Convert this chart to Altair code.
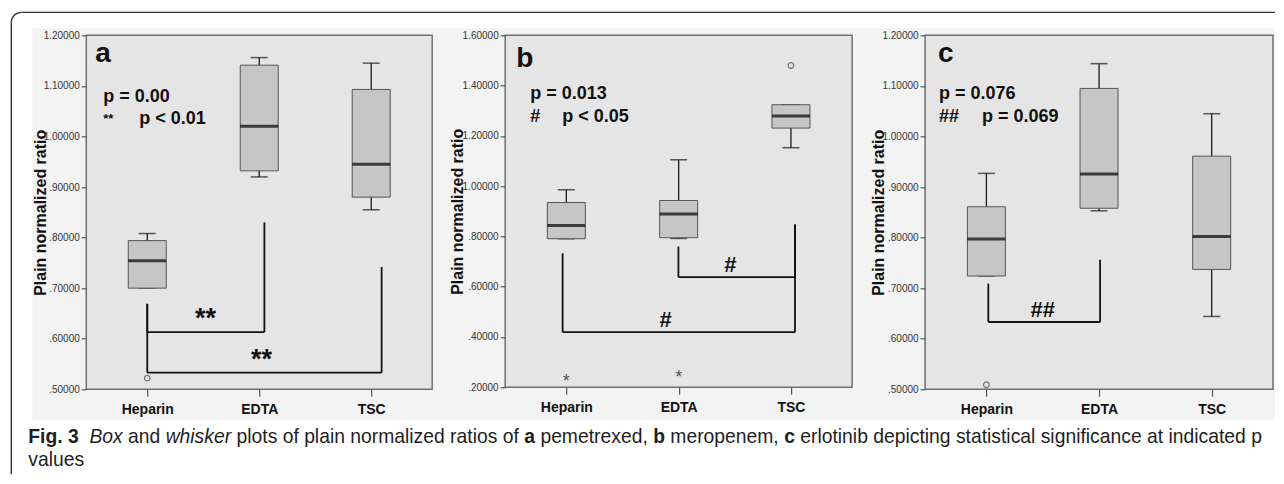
import json
import altair as alt
import pandas as pd

groups = ["Heparin", "EDTA", "TSC"]

# ---------- (a) pemetrexed ----------
a_low = [0.700, 0.920, 0.855]
a_q1 = [0.700, 0.932, 0.880]
a_med = [0.754, 1.020, 0.945]
a_q3 = [0.794, 1.141, 1.093]
a_high = [0.808, 1.156, 1.145]
a_outlier_group = ["Heparin"]
a_outlier_value = [0.522]
a_extreme_group = []
a_extreme_value = []
a_ticks = [0.5, 0.6, 0.7, 0.8, 0.9, 1.0, 1.1, 1.2]
a_bracket_left = [0.0, 0.0]
a_bracket_left_top = [0.669, 0.669]
a_bracket_right = [1.046, 2.093]
a_bracket_right_top = [0.830, 0.742]
a_bracket_level = [0.613, 0.533]
a_bracket_label = ["**", "**"]
a_bracket_label_pos = [0.52, 1.02]
a_stats = ["p = 0.00", "**", "p < 0.01"]

# ---------- (b) meropenem ----------
b_low = [0.791, 0.792, 1.153]
b_q1 = [0.791, 0.795, 1.231]
b_med = [0.844, 0.889, 1.279]
b_q3 = [0.935, 0.943, 1.324]
b_high = [0.986, 1.105, 1.324]
b_outlier_group = ["TSC"]
b_outlier_value = [1.480]
b_extreme_group = ["Heparin", "EDTA"]
b_extreme_value = [0.246, 0.260]
b_ticks = [0.2, 0.4, 0.6, 0.8, 1.0, 1.2, 1.4, 1.6]
b_bracket_left = [0.998, -0.033]
b_bracket_left_top = [0.760, 0.733]
b_bracket_right = [2.036, 2.036]
b_bracket_right_top = [0.848, 0.848]
b_bracket_level = [0.638, 0.419]
b_bracket_label = ["#", "#"]
b_bracket_label_pos = [1.46, 0.883]
b_stats = ["p = 0.013", "#", "p < 0.05"]

# ---------- (c) erlotinib ----------
c_low = [0.724, 0.853, 0.644]
c_q1 = [0.724, 0.858, 0.737]
c_med = [0.797, 0.926, 0.802]
c_q3 = [0.861, 1.095, 0.961]
c_high = [0.927, 1.144, 1.045]
c_outlier_group = ["Heparin"]
c_outlier_value = [0.509]
c_extreme_group = []
c_extreme_value = []
c_ticks = [0.5, 0.6, 0.7, 0.8, 0.9, 1.0, 1.1, 1.2]
c_bracket_left = [0.017]
c_bracket_left_top = [0.709]
c_bracket_right = [1.009]
c_bracket_right_top = [0.756]
c_bracket_level = [0.633]
c_bracket_label = ["##"]
c_bracket_label_pos = [0.5]
c_stats = ["p = 0.076", "##", "p = 0.069"]

y_title = "Plain normalized ratio"

caption_line1 = [
    ("Fig. 3", "bold", "normal"),
    ("Box", "normal", "italic"),
    ("and", "normal", "normal"),
    ("whisker", "normal", "italic"),
    ("plots of plain normalized ratios of", "normal", "normal"),
    ("a", "bold", "normal"),
    ("pemetrexed,", "normal", "normal"),
    ("b", "bold", "normal"),
    ("meropenem,", "normal", "normal"),
    ("c", "bold", "normal"),
    ("erlotinib depicting statistical significance at indicated p", "normal", "normal"),
]
caption_line2 = "values"

# ---------------- styling / helpers ----------------
AX_FONT = "Liberation Sans Narrow, Liberation Sans, Arial"
TXT_FONT = "Liberation Sans, Arial"
ONE = pd.DataFrame({"k": [0]})

REG_W = {' ': 278, 'a': 556, 'b': 556, 'c': 500, 'd': 556, 'e': 556, 'f': 278, 'g': 556,
         'h': 556, 'i': 222, 'j': 222, 'k': 500, 'l': 222, 'm': 833, 'n': 556, 'o': 556,
         'p': 556, 'q': 556, 'r': 333, 's': 500, 't': 278, 'u': 556, 'v': 500, 'w': 722,
         'x': 500, 'y': 500, 'z': 500, ',': 278, '.': 278, 'B': 667, 'F': 611, '3': 556}
BOLD_W = dict(REG_W)
BOLD_W.update({'b': 611, 'c': 556, 'g': 611, 'i': 278, 'F': 611})


def em(s, weight):
    t = BOLD_W if weight == "bold" else REG_W
    return sum(t.get(ch, 556) for ch in s) / 1000.0


def caption_layers(offx, offy):
    start, end = 28, 1262
    gaps = [0.55] + [0.278] * (len(caption_line1) - 2)
    total = sum(em(s, w) for s, w, _ in caption_line1) + sum(gaps)
    size = (end - start) / total
    layers = []
    x = start
    for i, (s, w, st) in enumerate(caption_line1):
        layers.append(alt.Chart(ONE).mark_text(
            text=s, font=TXT_FONT, fontSize=size, fontWeight=w, fontStyle=st,
            align="left", baseline="alphabetic", color="#1e1e1e"
        ).encode(x=alt.value(x - offx), y=alt.value(443 - offy)))
        x += em(s, w) * size
        if i < len(gaps):
            x += gaps[i] * size
    layers.append(alt.Chart(ONE).mark_text(
        text=caption_line2, font=TXT_FONT, fontSize=size, align="left",
        baseline="alphabetic", color="#1e1e1e"
    ).encode(x=alt.value(start - offx), y=alt.value(466 - offy)))
    return layers


def frame_layers(offx, offy):
    L = []
    L.append(alt.Chart(ONE).mark_rect(fill="#f3f3f3").encode(
        x=alt.value(32 - offx), x2=alt.value(1275 - offx),
        y=alt.value(28 - offy), y2=alt.value(420 - offy)))
    L.append(alt.Chart(ONE).mark_rule(color="#333333", strokeWidth=1.4).encode(
        x=alt.value(21 - offx), x2=alt.value(1275 - offx), y=alt.value(12 - offy)))
    L.append(alt.Chart(ONE).mark_rule(color="#333333", strokeWidth=1.4).encode(
        x=alt.value(11 - offx), y=alt.value(22 - offy), y2=alt.value(474 - offy)))
    L.append(alt.Chart(ONE).mark_arc(radius=10.7, radius2=9.3, color="#333333").encode(
        x=alt.value(21 - offx), y=alt.value(22 - offy),
        theta=alt.value(4.7124), theta2=alt.value(6.2832)))
    return L


def panel(letter, low, q1, med, q3, high, og, ov, eg, ev, ticks,
          bl, blt, br, brt, blev, blab, blpos, stats, st, first=False):
    W, H = st["w"], st["h"]
    pos = list(range(len(groups)))
    box = pd.DataFrame({"pos": pos, "low": low, "q1": q1, "med": med, "q3": q3, "high": high})
    outl = pd.DataFrame({"pos": [groups.index(g) for g in og], "value": ov})
    extr = pd.DataFrame({"pos": [groups.index(g) for g in eg], "value": ev})
    segs = []
    for lx, lt, rx, rt, lv in zip(bl, blt, br, brt, blev):
        segs += [dict(x=lx, y=lt, x2=lx, y2=lv),
                 dict(x=lx, y=lv, x2=rx, y2=lv),
                 dict(x=rx, y=lv, x2=rx, y2=rt)]
    segs = pd.DataFrame(segs)
    labs = pd.DataFrame({"x": blpos, "y": blev, "t": blab})

    xs = alt.Scale(domain=[-0.5, len(groups) - 0.5], nice=False, zero=False)
    ys = alt.Scale(domain=[ticks[0], ticks[-1]], nice=False, zero=False)
    xaxis = alt.Axis(values=pos, labelExpr=json.dumps(groups) + "[datum.value]",
                     title=None, grid=False, domain=False, tickSize=7, tickColor="#555555",
                     tickWidth=1.2, labelFont=AX_FONT, labelFontSize=14, labelFontWeight="bold",
                     labelColor="#111111", labelPadding=6, zindex=1)
    yaxis = alt.Axis(values=ticks,
                     labelExpr="datum.value < 1 ? substring(format(datum.value, '.5f'), 1) : format(datum.value, '.5f')",
                     title=y_title, titleFont=TXT_FONT, titleFontSize=16, titleFontWeight="bold",
                     titleColor="#111111", titleX=st["tx"], titleY=H / 2, titleAngle=270,
                     titleAlign="center", titleBaseline="middle",
                     grid=False, domain=False, tickSize=5, tickColor="#555555", tickWidth=1.2,
                     labelFont=AX_FONT, labelFontSize=10, labelColor="#333333", labelPadding=2,
                     zindex=1)

    def X(f):
        return alt.X(f, type="quantitative", scale=xs, axis=xaxis)

    def Y(f):
        return alt.Y(f, type="quantitative", scale=ys, axis=yaxis)

    layers = []
    if first:
        layers += frame_layers(86, 35)
        layers += caption_layers(86, 35)
    layers.append(alt.Chart(ONE).mark_rect(fill="#e5e5e5", stroke="#707070", strokeWidth=1.5).encode(
        x=alt.value(0), x2=alt.value(W), y=alt.value(0), y2=alt.value(H)))
    layers.append(alt.Chart(box).mark_rule(color="#1a1a1a", strokeWidth=1.3).encode(
        x=X("pos"), y=Y("low"), y2="high"))
    for f in ["low", "high"]:
        layers.append(alt.Chart(box).mark_tick(orient="horizontal", size=17, thickness=1.5,
                                               color="#1a1a1a").encode(x=X("pos"), y=Y(f)))
    layers.append(alt.Chart(box).mark_bar(size=38, fill="#c6c6c6", stroke="#555555",
                                          strokeWidth=1).encode(x=X("pos"), y=Y("q1"), y2="q3"))
    layers.append(alt.Chart(box).mark_tick(orient="horizontal", size=38, thickness=3,
                                           color="#000000").encode(x=X("pos"), y=Y("med")))
    if len(outl):
        layers.append(alt.Chart(outl).mark_point(shape="circle", filled=False, size=32,
                                                 color="#444444", strokeWidth=1.2).encode(
            x=X("pos"), y=Y("value")))
    if len(extr):
        layers.append(alt.Chart(extr).mark_text(text="*", font=TXT_FONT, fontSize=18,
                                                color="#555555", dy=6).encode(
            x=X("pos"), y=Y("value")))
    layers.append(alt.Chart(segs).mark_rule(color="#111111", strokeWidth=1.8).encode(
        x=X("x"), y=Y("y"), x2="x2", y2="y2"))
    layers.append(alt.Chart(labs).mark_text(font=TXT_FONT, fontSize=st["bfs"], fontWeight="bold",
                                            align="center", baseline="alphabetic", dy=-5,
                                            color="#111111").encode(
        x=X("x"), y=Y("y"), text="t:N"))
    # panel letter
    layers.append(alt.Chart(ONE).mark_text(text=letter, font=TXT_FONT, fontSize=28, fontWeight="bold",
                                           align="left", baseline="alphabetic", color="#111111").encode(
        x=alt.value(st["lx"]), y=alt.value(st["ly"])))
    # statistics text
    for txt, (px, py, fs) in zip(stats, st["stats"]):
        layers.append(alt.Chart(ONE).mark_text(text=txt, font=TXT_FONT, fontSize=fs, fontWeight="bold",
                                               align="left", baseline="alphabetic",
                                               color="#111111").encode(
            x=alt.value(px), y=alt.value(py)))
    return alt.layer(*layers).properties(width=W, height=H)


pa = panel("a", a_low, a_q1, a_med, a_q3, a_high, a_outlier_group, a_outlier_value,
           a_extreme_group, a_extreme_value, a_ticks, a_bracket_left, a_bracket_left_top,
           a_bracket_right, a_bracket_right_top, a_bracket_level, a_bracket_label,
           a_bracket_label_pos, a_stats,
           dict(w=346, h=354, tx=-46, bfs=27, lx=9, ly=27,
                stats=[(17, 67, 18), (17, 88, 13), (53, 89, 18)]), first=True)
pb = panel("b", b_low, b_q1, b_med, b_q3, b_high, b_outlier_group, b_outlier_value,
           b_extreme_group, b_extreme_value, b_ticks, b_bracket_left, b_bracket_left_top,
           b_bracket_right, b_bracket_right_top, b_bracket_level, b_bracket_label,
           b_bracket_label_pos, b_stats,
           dict(w=347, h=352, tx=-48, bfs=22, lx=11, ly=32,
                stats=[(25, 64, 18), (25, 87, 18), (57, 87, 18)]))
pc = panel("c", c_low, c_q1, c_med, c_q3, c_high, c_outlier_group, c_outlier_value,
           c_extreme_group, c_extreme_value, c_ticks, c_bracket_left, c_bracket_left_top,
           c_bracket_right, c_bracket_right_top, c_bracket_level, c_bracket_label,
           c_bracket_label_pos, c_stats,
           dict(w=348, h=354, tx=-47, bfs=22, lx=13, ly=27,
                stats=[(14, 64, 18), (14, 87, 18), (57, 87, 18)]))

chart = alt.hconcat(pa, pb, pc, spacing=73, bounds="flush").properties(
    padding={"left": 2.3, "top": 3.3, "right": 0, "bottom": 0},
    background="white",
).configure_view(stroke=None, fill=None)

chart.save("out.html", embed_options={"renderer": "svg", "actions": False})
